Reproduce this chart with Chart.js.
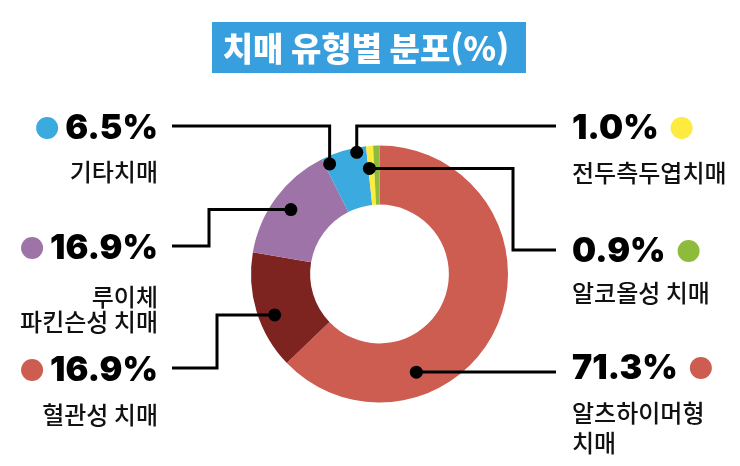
<!DOCTYPE html>
<html lang="ko">
<head>
<meta charset="utf-8">
<script src="https://cdn.jsdelivr.net/npm/chart.js@4"></script>
<style>
  html, body { margin: 0; padding: 0; background: #fff; }
  #wrap { position: relative; width: 740px; height: 466px; }
</style>
</head>
<body>
<div id="wrap"><canvas id="dementia-chart"></canvas></div>
<script>
// 데이터
const categories = ['알츠하이머형 치매', '혈관성 치매', '루이체 파킨슨성 치매', '기타치매', '전두측두엽치매', '알코올성 치매'];
const values = [71.3, 16.9, 16.9, 6.5, 1.0, 0.9];
const valueLabels = ['71.3%', '16.9%', '16.9%', '6.5%', '1.0%', '0.9%'];
const chartTitle = '치매 유형별 분포(%)';

const sliceColors = ['#cd5c51', '#7e2420', '#9e74a8', '#3aaadf', '#fdeb3f', '#8fbb3c'];
const dotColors = ['#cd5c51', '#cd5c51', '#9e74a8', '#3aaadf', '#fdeb3f', '#8fbb3c'];

// 라벨 배치 (레이아웃 전용)
const callouts = [
  { side: 'right', y: 379, sub: ['알츠하이머형', '치매'], subY: [413, 443], lineY: 372, t: 0.705, f: 0.60 },
  { side: 'left',  y: 381, sub: ['혈관성 치매'], subY: [415], lineY: 368, elbowX: 217, t: 0.42, f: 0.73 },
  { side: 'left',  y: 259, sub: ['루이체', '파킨슨성 치매'], subY: [297, 322], lineY: 246, elbowX: 209, t: 0.49, f: 0.68 },
  { side: 'left',  y: 139, sub: ['기타치매'], subY: [172], lineY: 126, t: 0.11, f: 0.87 },
  { side: 'right', y: 139, sub: ['전두측두엽치매'], subY: [173], lineY: 126, t: -1.44, f: 0.92 },
  { side: 'right', y: 262, sub: ['알코올성 치매'], subY: [293], lineY: 250, elbowX: 513, t: -0.92, f: 0.62 }
];

const LEFT_TEXT_X = 158;
const RIGHT_TEXT_X = 572;
const LEFT_LINE_X = 172;
const RIGHT_LINE_X = 556;

const calloutPlugin = {
  id: 'callouts',
  afterDraw(chart) {
    const ctx = chart.ctx;
    const arcs = chart.getDatasetMeta(0).data;
    ctx.save();

    // 제목 상자
    ctx.fillStyle = '#379fdd';
    ctx.fillRect(212, 22, 314, 51);
    ctx.fillStyle = '#ffffff';
    ctx.font = '900 33px "Noto Sans CJK KR"';
    ctx.textAlign = 'center';
    ctx.textBaseline = 'middle';
    ctx.fillText(chartTitle, 366, 48);

    callouts.forEach((c, i) => {
      const arc = arcs[i];
      const p = arc.getProps(['x', 'y', 'startAngle', 'endAngle', 'innerRadius', 'outerRadius'], true);
      const a = p.startAngle + c.t * (p.endAngle - p.startAngle);
      const r = p.innerRadius + c.f * (p.outerRadius - p.innerRadius);
      const dx = p.x + Math.cos(a) * r;
      const dy = p.y + Math.sin(a) * r;

      // 지시선
      const sx = c.side === 'left' ? LEFT_LINE_X : RIGHT_LINE_X;
      ctx.strokeStyle = '#000';
      ctx.lineWidth = 3;
      ctx.lineJoin = 'miter';
      ctx.beginPath();
      ctx.moveTo(sx, c.lineY);
      if (c.elbowX !== undefined) {
        ctx.lineTo(c.elbowX, c.lineY);
        ctx.lineTo(c.elbowX, dy);
        ctx.lineTo(dx, dy);
      } else {
        ctx.lineTo(dx, c.lineY);
        ctx.lineTo(dx, dy);
      }
      ctx.stroke();
      ctx.fillStyle = '#000';
      ctx.beginPath();
      ctx.arc(dx, dy, 6.5, 0, Math.PI * 2);
      ctx.fill();

      // 퍼센트 값
      ctx.font = '900 34px Inter';
      ctx.textBaseline = 'alphabetic';
      const w = ctx.measureText(valueLabels[i]).width;
      let dotX;
      if (c.side === 'left') {
        ctx.textAlign = 'right';
        ctx.fillText(valueLabels[i], LEFT_TEXT_X, c.y);
        dotX = LEFT_TEXT_X - w - 18;
      } else {
        ctx.textAlign = 'left';
        ctx.fillText(valueLabels[i], RIGHT_TEXT_X, c.y);
        dotX = RIGHT_TEXT_X + w + 23;
      }
      ctx.fillStyle = dotColors[i];
      ctx.beginPath();
      ctx.arc(dotX, c.y - 11, 11, 0, Math.PI * 2);
      ctx.fill();

      // 유형 이름
      ctx.fillStyle = '#111';
      ctx.font = '500 24px "Noto Sans CJK KR"';
      ctx.textBaseline = 'middle';
      c.sub.forEach((s, k) => {
        ctx.fillText(s, c.side === 'left' ? LEFT_TEXT_X : RIGHT_TEXT_X, c.subY[k]);
      });
    });
    ctx.restore();
  }
};

new Chart(document.getElementById('dementia-chart'), {
  type: 'doughnut',
  data: {
    labels: categories,
    datasets: [{
      data: values,
      backgroundColor: sliceColors,
      borderWidth: 0
    }]
  },
  options: {
    responsive: true,
    maintainAspectRatio: false,
    animation: false,
    cutout: '54%',
    layout: { padding: { top: 145, bottom: 63, left: 251, right: 232 } },
    plugins: {
      legend: { display: false },
      tooltip: { enabled: false }
    }
  },
  plugins: [calloutPlugin]
});
</script>
</body>
</html>
